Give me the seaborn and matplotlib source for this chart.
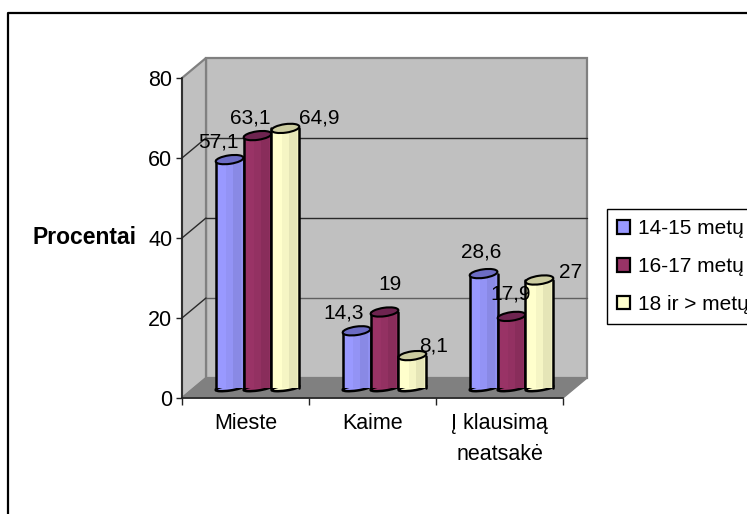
import pandas as pd
import matplotlib
matplotlib.use('Agg')
import matplotlib.pyplot as plt
import seaborn as sns
from matplotlib.patches import Ellipse, Polygon, Rectangle
from matplotlib.lines import Line2D
from matplotlib.transforms import Affine2D, IdentityTransform

# duomenys
kategorijos = ['Mieste', 'Kaime', 'Į klausimą\nneatsakė']
grupes = ['14-15 metų', '16-17 metų', '18 ir > metų']
reiksmes_14 = [57.1, 14.3, 28.6]
reiksmes_16 = [63.1, 19, 17.9]
reiksmes_18 = [64.9, 8.1, 27]
y_ticks = [0, 20, 40, 60, 80]

# spalvos: pagrindine, virsus
spalvos = ['#9999FF', '#993366', '#FFFFCC']
virsaus_spalvos = ['#6C6CC4', '#6E2450', '#CCCCA0']

# etikečių poslinkiai nuo stulpelio viršaus (px)
etikeciu_poslinkiai = [(-11, 18), (-13, 18), (-2, 22),
                       (-7, 18), (5, 28), (-1, 22),
                       (34, 10), (21, 10), (31, 7)]

W, H = 747, 514
GYLIS_X, GYLIS_Y = 24, 20
STULP_X, STULP_Y = 12, 10

df = pd.DataFrame({
    'kategorija': kategorijos * 3,
    'grupe': [g for g in grupes for _ in kategorijos],
    'reiksme': reiksmes_14 + reiksmes_16 + reiksmes_18,
})

sns.set_style('white')
plt.rcParams['font.family'] = ['Liberation Sans', 'DejaVu Sans']
plt.rcParams['text.color'] = '#000000'
plt.rcParams['axes.labelcolor'] = '#000000'
plt.rcParams['xtick.labelcolor'] = '#000000'
plt.rcParams['ytick.labelcolor'] = '#000000'

fig = plt.figure(figsize=(W / 100, H / 100), dpi=100)
ax = fig.add_axes([182 / W, (H - 398) / H, 381 / W, 320 / H])
ax.patch.set_visible(False)

sns.barplot(data=df, x='kategorija', y='reiksme', hue='grupe', hue_order=grupes,
            order=kategorijos, palette=spalvos, saturation=1, width=0.66,
            edgecolor='black', linewidth=1.6, ax=ax)
handles, labels = ax.get_legend_handles_labels()
ax.get_legend().remove()

ax.set_xlim(-0.5, 2.5)
ax.set_ylim(0, 80)
ax.set_xlabel('')
ax.set_ylabel('Procentai', rotation=0, ha='right', va='center', fontsize=16.5, fontweight='bold')
ax.yaxis.set_label_coords((137 - 182) / 381, 0.5)
ax.set_yticks(y_ticks)
ax.set_xticks([-0.5, 0.5, 1.5, 2.5])
ax.set_xticklabels([])
ax.set_xticks([0, 1, 2], minor=True)
ax.set_xticklabels(kategorijos, minor=True, linespacing=1.6)
ax.tick_params(axis='y', left=True, length=4, width=1, color='#222222', labelsize=15.5, pad=3)
ax.tick_params(axis='x', which='major', bottom=True, length=5, width=1, color='#222222')
ax.tick_params(axis='x', which='minor', bottom=False, length=0, labelsize=15.5, pad=11)
sns.despine(ax=ax)
for s in ['left', 'bottom']:
    ax.spines[s].set_color('#222222')
    ax.spines[s].set_linewidth(1.2)
    ax.spines[s].set_zorder(1.5)


def px(x, y):
    return ax.transData.transform((x, y))


pikseliai = IdentityTransform()
gylis = ax.transData + Affine2D().translate(GYLIS_X, GYLIS_Y)
stulp = ax.transData + Affine2D().translate(STULP_X, STULP_Y)

# 3D sienos
x0, x1 = ax.get_xlim()
y0, y1 = ax.get_ylim()
a, b = px(x0, y0), px(x0, y1)
c = a + (GYLIS_X, GYLIS_Y)
d = b + (GYLIS_X, GYLIS_Y)
e = px(x1, y0)
sienu_kw = dict(clip_on=False, zorder=0.2, joinstyle='miter')
ax.add_patch(Rectangle((x0, y0), x1 - x0, y1 - y0, transform=gylis, fc='#C0C0C0',
                       ec='#808080', lw=1.6, **sienu_kw))
ax.add_patch(Polygon([a, b, d, c], transform=pikseliai, fc='#C0C0C0', ec='#808080', lw=1.6, **sienu_kw))
ax.add_patch(Polygon([a, e, e + (GYLIS_X, GYLIS_Y), c], transform=pikseliai, fc='#808080',
                     ec='#808080', lw=1, **sienu_kw))

# tinklelis ant sienų
for t in y_ticks[1:-1]:
    sp = '#606060' if t == 20 else '#2A2A2A'
    ax.plot([x0, x1], [t, t], transform=gylis, color=sp, lw=1, clip_on=False, zorder=0.3)
    p = px(x0, t)
    ax.add_line(Line2D([p[0], p[0] + GYLIS_X], [p[1], p[1] + GYLIS_Y], transform=pikseliai,
                       color='#2A2A2A', lw=1, clip_on=False, zorder=0.3))

# cilindrai ant seaborn stulpelių
ELIPSE_H = 8.5
KAMPAS = 8
for i, konteineris in enumerate(ax.containers):
    for j, bar in enumerate(konteineris):
        bar.set_transform(stulp)
        bar.set_clip_on(False)
        bar.set_edgecolor('none')
        bar.set_zorder(2 + j + i * 0.1)
        z = bar.get_zorder()
        xk, yv = stulp.transform((bar.get_x(), bar.get_height()))
        xd, ya = stulp.transform((bar.get_x() + bar.get_width(), 0))
        plotis = xd - xk
        xc = (xk + xd) / 2
        # apatine elipse
        ax.add_patch(Ellipse((xc, ya), plotis, ELIPSE_H * 0.6, angle=KAMPAS, transform=pikseliai,
                             fc=spalvos[i], ec='black', lw=1.8, clip_on=False, zorder=z - 0.01))
        # seselis
        for f0, f1, alfa in [(0.36, 0.62, 0.04), (0.62, 0.9, 0.1), (0.9, 1, 0.06)]:
            ax.add_patch(Rectangle((xk + f0 * plotis, ya), (f1 - f0) * plotis, yv - ya, transform=pikseliai,
                                   fc='black', ec='none', alpha=alfa, clip_on=False, zorder=z + 0.01))
        for xx in [xk, xd]:
            ax.add_line(Line2D([xx, xx], [ya, yv], transform=pikseliai, color='black', lw=1.8,
                               clip_on=False, zorder=z + 0.02))
        # virsus
        ax.add_patch(Ellipse((xc, yv), plotis, ELIPSE_H, angle=KAMPAS, transform=pikseliai,
                             fc=virsaus_spalvos[i], ec='black', lw=1.5, clip_on=False, zorder=z + 0.03))
        # etikete
        dx, dy = etikeciu_poslinkiai[i * 3 + j]
        ax.text(xc + dx, yv + dy, f'{bar.get_height():g}'.replace('.', ','), transform=pikseliai,
                ha='center', va='center', fontsize=15, clip_on=False, zorder=10)

leg = ax.legend(handles, labels, loc='upper left', bbox_to_anchor=(607 / W, 1 - 209 / H),
                bbox_transform=fig.transFigure, borderaxespad=0, fontsize=15, frameon=True,
                fancybox=False, edgecolor='black', framealpha=1, labelspacing=0.9,
                handlelength=0.62, handleheight=0.62, handletextpad=0.35, borderpad=0.5)
leg.get_frame().set_linewidth(1)
leg.set_zorder(12)

# išorinis rėmelis
fig.add_artist(Line2D([8 / W, 8 / W, 1], [0, 1 - 13 / H, 1 - 13 / H], color='black', lw=1.6))

fig.savefig('out.png', dpi=100)
